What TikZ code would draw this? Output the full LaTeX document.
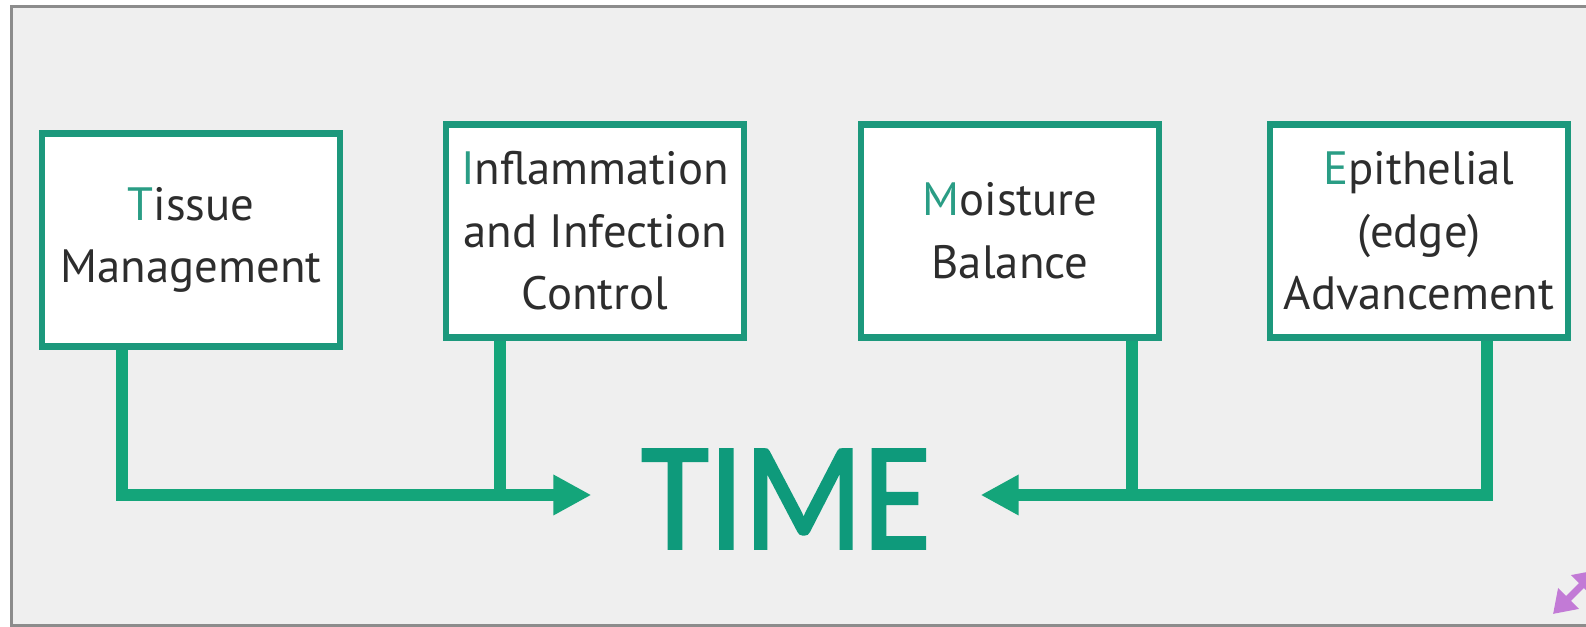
\documentclass[tikz,border=0pt]{standalone}
\usepackage{fontspec}
\setmainfont{PT Sans}
\newfontfamily\timefont[FakeBold=1.6]{Carlito}
\usetikzlibrary{arrows.meta}
\usetikzlibrary{positioning}
\definecolor{boxline}{RGB}{28,152,124}
\definecolor{linkgreen}{RGB}{20,165,122}
\definecolor{initial}{RGB}{42,157,133}
\definecolor{timegreen}{RGB}{14,154,123}
\definecolor{paper}{RGB}{239,239,239}
\definecolor{framegray}{RGB}{140,140,140}
\definecolor{ink}{RGB}{45,45,45}
\definecolor{iconpurple}{RGB}{194,122,214}
\newcommand{\ini}[1]{\textcolor{initial}{#1}}
\tikzstyle{box} = [rectangle, draw=boxline, line width=0.65mm, fill=white, minimum width=29.8mm, minimum height=21.3mm, align=center, text=ink, font=\fontsize{13.3}{17.8}\selectfont]
\tikzstyle{link} = [draw=linkgreen, line width=1.15mm, -{Triangle[length=3.8mm,width=3.8mm]}]
\tikzstyle{feed} = [draw=linkgreen, line width=1.15mm]

\begin{document}
\begin{tikzpicture}[x=0.1mm, y=-0.1mm]
\useasboundingbox (0,0) rectangle (1586,627);
\fill[white] (0,0) rectangle (1586,627);
\filldraw[fill=paper, draw=framegray, line width=0.3mm] (11,7) rectangle (1620,626);

% the four TIME boxes
\node (tis) [box] at (191,240) {\ini{T}issue\\Management};
\node (inf) [box] at (595,231) {\ini{I}nflammation\\and Infection\\Control};
\node (moi) [box] at (1010,231) {\ini{M}oisture\\Balance};
\node (epi) [box] at (1419,231) {\ini{E}pithelial\\(edge)\\Advancement};

\node (time) [text=timegreen, inner xsep=4.9mm, inner ysep=0pt, font=\timefont\fontsize{44}{44}\selectfont] at (786,499) {\scalebox{0.9}[1]{TIME}};

\coordinate (cornerL) at (122,495);
\coordinate (joinL) at (500,495);
\coordinate (joinR) at (1132,495);
\coordinate (cornerR) at (1487,495);

% arrows into TIME
\draw[link] (tis.south -| cornerL) -- (cornerL) -- (cornerL -| time.west);
\draw[feed] (inf.south -| joinL) -- (joinL);
\draw[link] (epi.south -| cornerR) -- (cornerR) -- (cornerR -| time.east);
\draw[feed] (moi.south -| joinR) -- (joinR);

% expand icon
\draw[iconpurple, line width=0.7mm, {Triangle[length=2.2mm,width=2.8mm]}-{Triangle[length=2.2mm,width=2.8mm]}] (1553,614) -- (1597,570);
\end{tikzpicture}
\end{document}
